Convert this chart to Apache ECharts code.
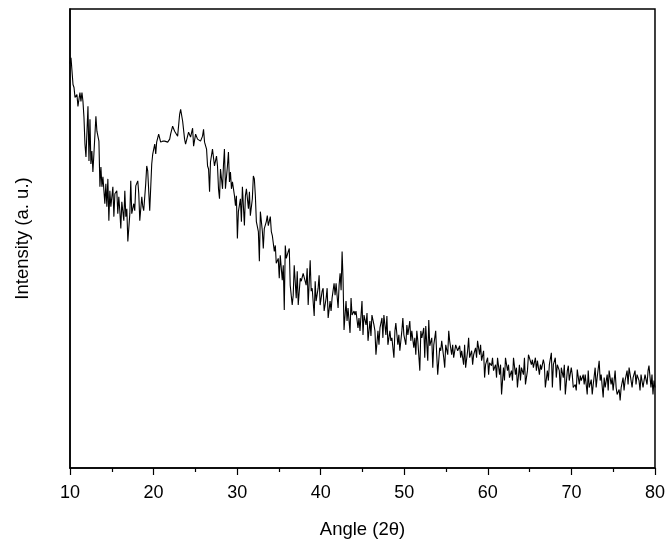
<!DOCTYPE html>
<html>
<head>
<meta charset="utf-8">
<script src="https://cdn.jsdelivr.net/npm/echarts@6/dist/echarts.min.js"></script>
<style>html,body{margin:0;padding:0;background:#fff}#c{width:668px;height:544px}</style>
</head>
<body>
<div id="c"></div>
<script>
// 2θ angle values (degrees)
var angles = [
10.00,10.12,10.36,10.48,10.60,10.83,10.95,11.19,11.31,11.43,11.55,11.67,11.79,11.91,12.15,12.27,12.39,12.50,12.62,12.74,
12.86,13.10,13.22,13.46,13.58,13.70,13.82,13.94,14.17,14.29,14.41,14.53,14.65,14.77,14.89,15.13,15.25,15.37,15.60,15.72,
15.84,15.96,16.08,16.20,16.44,16.56,16.68,16.80,16.92,17.16,17.27,17.39,17.63,17.75,17.87,18.11,18.23,18.35,18.59,18.71,
18.82,19.06,19.18,19.30,19.42,19.54,19.78,19.90,20.14,20.26,20.37,20.61,20.85,21.09,21.33,21.69,21.93,22.04,22.28,22.52,
22.64,22.88,23.12,23.24,23.48,23.71,
23.83,24.07,24.19,24.43,24.67,24.79,25.03,25.26,25.38,25.62,25.86,25.98,26.10,26.34,26.46,26.58,26.70,26.81,27.05,27.17,
27.29,27.53,27.65,27.77,27.89,28.01,28.25,28.36,28.48,28.60,28.84,28.96,29.08,29.20,29.32,29.44,29.68,29.80,29.91,30.03,
30.15,30.39,30.51,30.63,30.87,30.99,31.11,31.35,31.47,31.58,31.82,31.94,32.06,32.18,32.30,32.54,32.66,32.78,33.02,33.13,
33.25,33.49,33.61,33.73,33.97,34.09,34.21,34.45,34.57,34.68,34.92,35.04,35.16,35.40,35.52,35.64,35.76,35.88,36.12,36.24,
36.35,36.59,36.71,36.83,37.07,37.19,37.31,37.55,
37.67,37.90,38.02,38.26,38.38,38.50,38.74,38.86,38.98,39.22,39.34,39.45,39.69,39.81,39.93,40.17,40.29,40.41,40.65,40.77,
40.89,41.12,41.24,41.36,41.60,41.72,41.84,42.08,42.20,42.32,42.44,42.56,42.67,42.79,43.03,43.15,43.27,43.51,43.63,43.75,
43.99,44.11,44.22,44.46,44.58,44.70,44.94,45.06,45.18,45.42,45.54,45.66,45.89,46.01,46.13,46.37,46.49,46.61,46.85,46.97,
47.09,47.33,47.44,47.56,47.80,47.92,48.04,48.28,48.40,48.52,48.76,48.88,48.99,49.23,49.35,49.47,49.71,49.83,49.95,50.19,
50.31,50.43,50.66,50.78,50.90,51.14,51.26,51.38,
51.50,51.62,51.86,51.98,52.10,52.33,52.45,52.57,52.81,52.93,53.05,53.29,53.41,53.53,53.76,53.88,54.00,54.24,54.36,54.48,
54.72,54.84,54.96,55.20,55.32,55.43,55.67,55.79,55.91,56.15,56.27,56.39,56.63,56.75,56.87,57.10,57.22,57.34,57.58,57.70,
57.82,58.06,58.18,58.30,58.53,58.65,58.77,59.01,59.13,59.25,59.49,59.61,59.73,59.97,60.09,60.20,60.44,60.56,60.68,60.92,
61.04,61.16,61.40,61.52,61.64,61.87,61.99,62.11,62.35,62.47,62.59,62.83,62.95,63.07,63.30,63.42,63.54,63.78,63.90,64.02,
64.26,64.38,64.50,64.74,64.86,64.97,65.21,
65.33,65.45,65.69,65.81,65.93,66.17,66.29,66.41,66.64,66.76,66.88,67.12,67.24,67.36,67.60,67.72,67.84,68.07,68.19,68.31,
68.55,68.67,68.79,69.03,69.15,69.27,69.51,69.63,69.74,69.98,70.10,70.22,70.46,70.58,70.70,70.94,71.06,71.18,71.41,71.53,
71.65,71.89,72.01,72.13,72.37,72.49,72.61,72.84,72.96,73.08,73.32,73.44,73.56,73.80,73.92,74.04,74.28,74.40,74.51,74.75,
74.87,74.99,75.23,75.35,75.47,75.71,75.83,75.95,76.18,76.30,76.42,76.66,76.78,76.90,77.14,77.26,77.38,77.61,77.73,77.85,
78.09,78.21,78.33,78.57,78.69,78.81,79.05,79.17,79.28,79.52,79.64,79.76,79.88,80.00
];
// Intensity (a. u.)
var intensity = [
407,413,386,383,373,376,364,378,369,378,369,353,326,313,364,309,351,306,319,298,
316,354,339,329,283,303,283,293,266,286,263,291,249,279,263,283,253,276,279,256,
273,259,241,268,249,279,253,261,228,256,289,256,266,259,284,289,276,249,273,263,
259,286,304,299,301,259,306,316,326,316,328,336,328,329,329,328,331,336,344,339,
341,334,356,361,349,331,
326,334,338,333,342,324,336,331,333,329,334,341,328,321,304,301,278,308,321,323,
304,314,304,281,271,301,281,304,321,281,304,318,288,298,281,288,274,264,274,231,
258,271,248,283,244,274,281,261,278,254,271,294,291,274,248,238,208,258,238,221,
241,248,254,244,253,238,234,218,224,206,211,191,214,189,204,159,224,211,218,221,
184,164,174,204,171,198,164,191,
188,196,198,184,201,164,209,178,181,153,188,168,181,194,164,178,181,158,171,181,
151,168,158,171,186,174,186,161,184,196,179,218,191,139,168,148,161,136,171,154,
158,154,158,141,151,138,168,134,154,144,156,128,148,133,154,144,138,114,138,124,
141,151,131,154,134,153,124,138,128,131,111,138,146,124,134,118,138,151,134,124,
144,134,148,128,138,121,131,114,
138,128,98,138,131,141,111,143,108,149,123,131,101,124,138,114,94,121,118,128,
111,101,124,114,138,128,114,124,111,124,126,118,123,111,118,104,124,101,118,131,
111,118,104,114,121,111,128,114,124,108,118,91,104,111,94,106,103,111,98,104,
91,111,94,104,74,101,88,111,98,104,91,98,88,111,94,101,81,104,88,101,
94,111,84,98,114,111,104,
109,101,111,98,108,94,104,99,109,104,81,98,88,104,116,81,104,111,91,104,
98,78,101,91,104,74,98,103,88,101,94,81,84,78,99,84,93,88,94,84,
94,74,98,81,89,74,84,101,81,91,108,88,94,71,91,81,94,78,98,84,
91,78,98,81,74,79,68,81,91,78,88,98,84,101,88,81,91,98,84,94,
88,78,94,81,88,94,84,98,103,81,94,74,88,81
];
// x-axis tick labels
var xTicks = [10, 20, 30, 40, 50, 60, 70, 80];

var seriesData = angles.map(function (a, i) { return [a, intensity[i]]; });

var chart = echarts.init(document.getElementById('c'), null, { renderer: 'canvas' });
chart.setOption({
  animation: false,
  backgroundColor: '#ffffff',
  grid: {
    left: 70, right: 11, top: 9, bottom: 73,
    show: true, borderColor: '#000', borderWidth: 1.5, backgroundColor: 'transparent'
  },
  xAxis: {
    type: 'value',
    min: xTicks[0], max: xTicks[xTicks.length - 1], interval: 10,
    name: 'Angle (2θ)', nameLocation: 'middle', nameGap: 52,
    nameTextStyle: { fontFamily: 'Liberation Sans, Arial', fontSize: 18.5, color: '#000' },
    axisLine: { show: true, lineStyle: { color: '#000', width: 1.5 } },
    axisTick: { show: true, inside: false, length: 7, lineStyle: { color: '#000', width: 1.2 } },
    minorTick: { show: true, splitNumber: 2, length: 4, lineStyle: { color: '#000', width: 1.2 } },
    axisLabel: { show: true, margin: 16, fontFamily: 'Liberation Sans, Arial', fontSize: 18, color: '#000' },
    splitLine: { show: false }, minorSplitLine: { show: false }
  },
  yAxis: {
    type: 'value', min: 0, max: 462,
    name: 'Intensity (a. u.)', nameLocation: 'middle', nameGap: 38,
    nameTextStyle: { fontFamily: 'Liberation Sans, Arial', fontSize: 18.5, color: '#000' },
    axisLine: { show: true, lineStyle: { color: '#000', width: 1.5 } },
    axisTick: { show: false }, axisLabel: { show: false }, splitLine: { show: false }
  },
  series: [{
    type: 'line', data: seriesData, showSymbol: false, symbol: 'none',
    lineStyle: { color: '#000', width: 1.1 }, clip: true
  }]
});
</script>
</body>
</html>
